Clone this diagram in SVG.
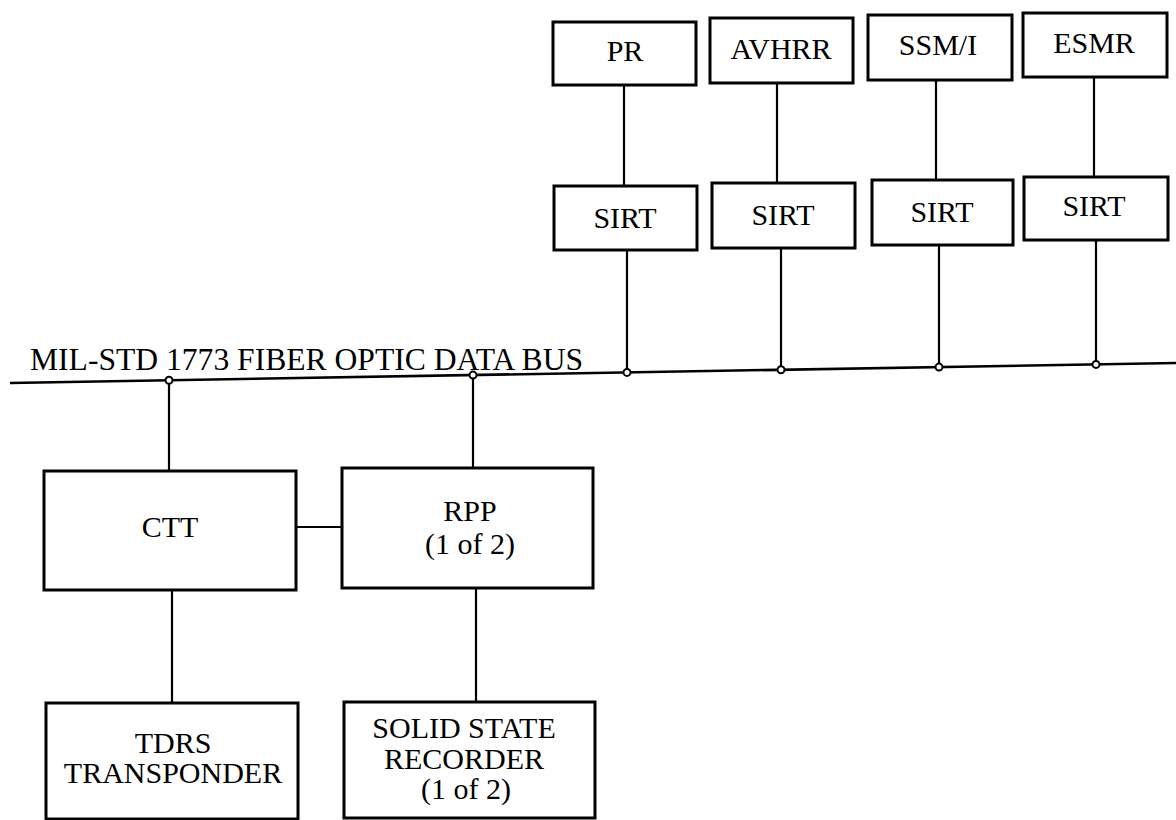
<svg xmlns="http://www.w3.org/2000/svg" width="1176" height="820" viewBox="0 0 1176 820">
<style>
.box{fill:#fff;stroke:#000;stroke-width:3}
.ln{fill:none;stroke:#000;stroke-width:2.2}
.jn{fill:#fff;stroke:#000;stroke-width:2}
.t{font-family:'Liberation Serif','Times New Roman','DejaVu Serif',serif;font-size:30px;fill:#000;text-anchor:middle}
.bus{font-size:31.6px;text-anchor:start}
</style>
<rect width="1176" height="820" fill="#fff"/>
<g id="connectors">
<line class="ln" x1="10" y1="383" x2="1176" y2="363" style="stroke-width:2.6"/>
<line class="ln" x1="624" y1="85" x2="624" y2="186"/>
<line class="ln" x1="627" y1="250" x2="627" y2="372"/>
<line class="ln" x1="777" y1="83" x2="777" y2="183"/>
<line class="ln" x1="781" y1="248" x2="781" y2="370"/>
<line class="ln" x1="936" y1="80" x2="936" y2="180"/>
<line class="ln" x1="939" y1="245" x2="939" y2="367"/>
<line class="ln" x1="1094" y1="77" x2="1094" y2="177"/>
<line class="ln" x1="1096" y1="240" x2="1096" y2="364"/>
<line class="ln" x1="169" y1="380" x2="169" y2="470"/>
<line class="ln" x1="473" y1="375" x2="473" y2="468"/>
<line class="ln" x1="296" y1="527" x2="342" y2="527"/>
<line class="ln" x1="172" y1="590" x2="172" y2="703"/>
<line class="ln" x1="476" y1="588" x2="476" y2="702"/>
<circle class="jn" cx="169" cy="380.3" r="3.5"/>
<circle class="jn" cx="473" cy="375.1" r="3.5"/>
<circle class="jn" cx="627" cy="372.4" r="3.5"/>
<circle class="jn" cx="781" cy="369.8" r="3.5"/>
<circle class="jn" cx="939" cy="367.1" r="3.5"/>
<circle class="jn" cx="1096" cy="364.4" r="3.5"/>
</g>
<g font-family="Liberation Serif, Times New Roman, DejaVu Serif, serif">
<text class="t bus" x="30" y="370">MIL-STD 1773 FIBER OPTIC DATA BUS</text>
<g id="pr"><rect class="box" x="553" y="22" width="143" height="63"/><text class="t" x="625" y="61">PR</text></g>
<g id="avhrr"><rect class="box" x="710" y="18" width="143" height="65"/><text class="t" x="781" y="59">AVHRR</text></g>
<g id="ssmi"><rect class="box" x="868" y="15" width="144" height="65"/><text class="t" x="938" y="55">SSM/I</text></g>
<g id="esmr"><rect class="box" x="1023" y="13" width="144" height="64"/><text class="t" x="1094" y="53">ESMR</text></g>
<g id="sirt-pr"><rect class="box" x="554" y="186" width="143" height="64"/><text class="t" x="625" y="228">SIRT</text></g>
<g id="sirt-avhrr"><rect class="box" x="712" y="183" width="143" height="65"/><text class="t" x="783" y="225">SIRT</text></g>
<g id="sirt-ssmi"><rect class="box" x="872" y="180" width="141" height="65"/><text class="t" x="942" y="222">SIRT</text></g>
<g id="sirt-esmr"><rect class="box" x="1024" y="177" width="144" height="63"/><text class="t" x="1094" y="216">SIRT</text></g>
<g id="ctt"><rect class="box" x="44" y="471" width="252" height="119"/><text class="t" x="170" y="537">CTT</text></g>
<g id="rpp"><rect class="box" x="342" y="468" width="251" height="120"/><text class="t" x="470" y="521">RPP</text><text class="t" x="470" y="554">(1 of 2)</text></g>
<g id="tdrs"><rect class="box" x="46" y="703" width="252" height="116"/><text class="t" x="173" y="753">TDRS</text><text class="t" x="173" y="783">TRANSPONDER</text></g>
<g id="ssr"><rect class="box" x="344" y="702" width="251" height="116"/><text class="t" x="464" y="738">SOLID STATE</text><text class="t" x="464" y="769">RECORDER</text><text class="t" x="466" y="799">(1 of 2)</text></g>
</g>
</svg>
